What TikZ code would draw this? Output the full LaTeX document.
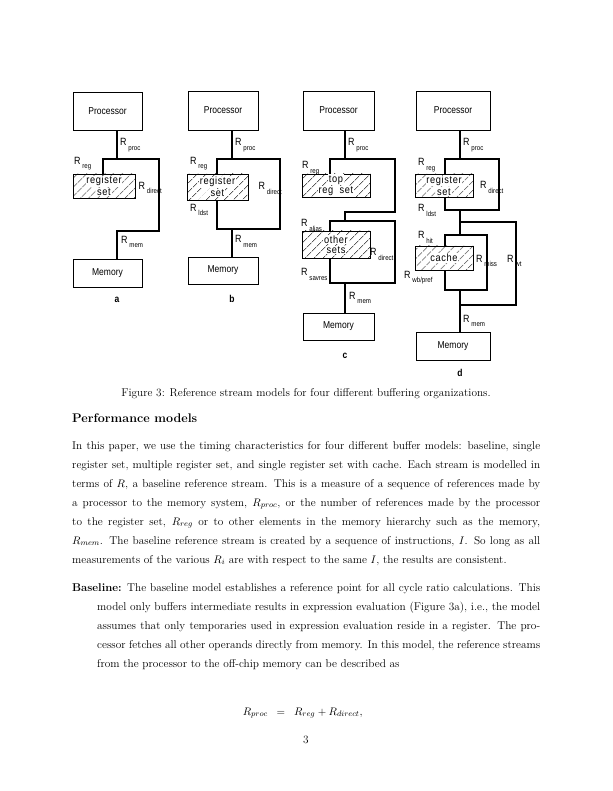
\documentclass[tikz,border=0pt]{standalone}
\usepackage{fontspec}
\newfontfamily\dfont[FakeStretch=0.85]{Liberation Sans}
\newfontfamily\hfont[FakeStretch=0.88,LetterSpace=6]{Liberation Sans}
\usetikzlibrary{patterns.meta}
\newcommand\RR[1]{R\hspace{1.8pt}\raisebox{-4.5pt}{\fontsize{7.2}{8}\selectfont #1}}
\newcommand\hw[1]{\colorbox{white}{#1}}
\setlength\fboxsep{0.8pt}
\begin{document}
\begin{tikzpicture}[x=1pt,y=-1pt,
  procbox/.style={draw,line width=0.9pt,inner sep=0,font=\dfont\fontsize{10}{12}\selectfont},
  hbox/.style={draw,line width=0.9pt,inner sep=0,align=center,
     pattern={Lines[angle=45,distance=6.5pt,line width=0.5pt]},
     font=\hfont\fontsize{10.5}{10.5}\selectfont},
  wire/.style={line width=1.7pt},
  lab/.style={anchor=base west,inner sep=0,font=\dfont\fontsize{10.5}{12}\selectfont},
  panel/.style={anchor=base,inner sep=0,font=\dfont\bfseries\fontsize{10}{12}\selectfont},
  txt/.style={anchor=base west,inner sep=0,font=\fontsize{11.3}{13}\selectfont},
  ctxt/.style={anchor=base,inner sep=0,font=\fontsize{11.3}{13}\selectfont}]
\fill[white] (0,0) rectangle (612,791);
\useasboundingbox (0,0) rectangle (612,791);

% ---------- panel a ----------
\node[procbox,minimum width=69pt,minimum height=38pt] (pa) at (107.5,111) {Processor};
\node[hbox,minimum width=62pt,minimum height=24pt] (ra) at (104,186) {\hw{register}\\\hw{set}};
\node[procbox,minimum width=69pt,minimum height=28pt] (ma) at (107.5,273) {Memory};
\coordinate (a1) at (117,159); \coordinate (aL) at (103,159); \coordinate (aR) at (159,159);
\coordinate (aB) at (159,231); \coordinate (aM) at (117,231);
\draw[wire] (pa.south -| a1) -- (a1);
\draw[wire] (ra.north -| aL) -- (aL) -- (aR) -- (aB) -- (aM) -- (ma.north -| aM);
\node[lab] (la1) at (120,146) {\RR{proc}};
\node[lab] (la2) at (74,164.5) {\RR{reg}};
\node[lab] (la3) at (138.5,189.5) {\RR{direct}};
\node[lab] (la4) at (121,243.5) {\RR{mem}};
\node[panel] (na) at (117,302) {a};

% ---------- panel b ----------
\node[procbox,minimum width=70pt,minimum height=39pt] (pb) at (223,110.5) {Processor};
\node[hbox,minimum width=61pt,minimum height=26pt] (rb) at (217.5,187) {\hw{register}\\\hw{set}};
\node[procbox,minimum width=70pt,minimum height=27pt] (mb) at (223,270.5) {Memory};
\coordinate (b1) at (232,159); \coordinate (bL) at (217,159); \coordinate (bR) at (280,159);
\coordinate (bB) at (280,229); \coordinate (bLB) at (217,229); \coordinate (bM) at (232,229);
\draw[wire] (pb.south -| b1) -- (b1);
\draw[wire] (rb.north -| bL) -- (bL) -- (bR) -- (bB) -- (bLB) -- (rb.south -| bLB);
\draw[wire] (bM) -- (mb.north -| bM);
\node[lab] (lb1) at (235,146) {\RR{proc}};
\node[lab] (lb2) at (190,164.5) {\RR{reg}};
\node[lab] (lb3) at (258.5,190) {\RR{direct}};
\node[lab] (lb4) at (190,211.5) {\RR{ldst}};
\node[lab] (lb5) at (235,243) {\RR{mem}};
\node[panel] (nb) at (232,302) {b};

% ---------- panel c ----------
\node[procbox,minimum width=71pt,minimum height=39pt] (pc) at (338.5,110.5) {Processor};
\node[hbox,minimum width=68pt,minimum height=23pt] (rc1) at (336,185.5) {\hw{top}\\\hw{reg\ \ set}};
\node[hbox,minimum width=68pt,minimum height=27pt] (rc2) at (336,244.5) {\hw{other}\\\hw{sets}};
\node[procbox,minimum width=71pt,minimum height=27pt] (mc) at (338.5,326.5) {Memory};
\coordinate (c1) at (345,159); \coordinate (cL) at (330,159); \coordinate (cR) at (395,159);
\coordinate (cRB) at (395,212); \coordinate (cM1) at (345,212); \coordinate (cM2) at (345,221);
\coordinate (cL2) at (330,221); \coordinate (cR2) at (395,221); \coordinate (cR2B) at (395,283);
\coordinate (cLB) at (330,283); \coordinate (cM3) at (345,283);
\draw[wire] (pc.south -| c1) -- (c1);
\draw[wire] (rc1.north -| cL) -- (cL) -- (cR) -- (cRB) -- (cM1) -- (cM2);
\draw[wire] (rc2.north -| cL2) -- (cL2) -- (cR2) -- (cR2B) -- (cLB) -- (rc2.south -| cLB);
\draw[wire] (cM3) -- (mc.north -| cM3);
\node[lab] (lc1) at (348,146) {\RR{proc}};
\node[lab] (lc2) at (302,169) {\RR{reg}};
\node[lab] (lc3) at (301,227) {\RR{alias}};
\node[lab] (lc4) at (370,256) {\RR{direct}};
\node[lab] (lc5) at (301,276) {\RR{savres}};
\node[lab] (lc6) at (349,299) {\RR{mem}};
\node[panel] (nc) at (345,358) {c};

% ---------- panel d ----------
\node[procbox,minimum width=74pt,minimum height=39pt] (pd) at (453,110.5) {Processor};
\node[hbox,minimum width=58pt,minimum height=23pt] (rd) at (444,185.5) {\hw{register}\\\hw{set}};
\node[hbox,minimum width=58pt,minimum height=24pt] (cd) at (444,258) {\hw{cache}};
\node[procbox,minimum width=74pt,minimum height=28pt] (md) at (453,346) {Memory};
\coordinate (d1) at (460,159); \coordinate (dL) at (445,159); \coordinate (dR) at (499,159);
\coordinate (dRB) at (499,210); \coordinate (dLB) at (445,210); \coordinate (dM1) at (460,210);
\coordinate (dW1) at (460,222); \coordinate (dW2) at (516,222); \coordinate (dW3) at (516,305); \coordinate (dW4) at (460,305);
\coordinate (dM2) at (460,235); \coordinate (dL2) at (445,235); \coordinate (dR2) at (487,235);
\coordinate (dR2B) at (487,290); \coordinate (dL2B) at (445,290); \coordinate (dM3) at (460,290);
\draw[wire] (pd.south -| d1) -- (d1);
\draw[wire] (rd.north -| dL) -- (dL) -- (dR) -- (dRB) -- (dLB) -- (rd.south -| dLB);
\draw[wire] (dM1) -- (dM2);
\draw[wire] (dW1) -- (dW2) -- (dW3) -- (dW4);
\draw[wire] (cd.north -| dL2) -- (dL2) -- (dR2) -- (dR2B) -- (dL2B) -- (cd.south -| dL2B);
\draw[wire] (dM3) -- (md.north -| dM3);
\node[lab] (ld1) at (463,146) {\RR{proc}};
\node[lab] (ld2) at (418,166) {\RR{reg}};
\node[lab] (ld3) at (480,189) {\RR{direct}};
\node[lab] (ld4) at (418,212) {\RR{ldst}};
\node[lab] (ld5) at (418,239) {\RR{hit}};
\node[lab] (ld6) at (476,262) {\RR{miss}};
\node[lab] (ld7) at (507,262) {\RR{wt}};
\node[lab] (ld8) at (404,278) {\RR{wb/pref}};
\node[lab] (ld9) at (463,322) {\RR{mem}};
\node[panel] (nd) at (460,376) {d};

% ---------- text ----------
\node[ctxt] (cap) at (306,396) {Figure 3: Reference stream models for four different buffering organizations.};
\node[txt,font=\bfseries\fontsize{12.5}{14}\selectfont] (head) at (72,422) {Performance models};

\node[txt] (l1) at (72,449) {\makebox[468pt][s]{In this paper, we use the timing characteristics for four different buffer models: baseline, single}};
\node[txt] (l2) at (72,468) {\makebox[468pt][s]{register set, multiple register set, and single register set with cache. Each stream is modelled in}};
\node[txt] (l3) at (72,487) {\makebox[468pt][s]{terms of $R$, a baseline reference stream. This is a measure of a sequence of references made by}};
\node[txt] (l4) at (72,506) {\makebox[468pt][s]{a processor to the memory system, $R_{proc}$, or the number of references made by the processor}};
\node[txt] (l5) at (72,525) {\makebox[468pt][s]{to the register set, $R_{reg}$ or to other elements in the memory hierarchy such as the memory,}};
\node[txt] (l6) at (72,544) {\makebox[468pt][s]{$R_{mem}$. The baseline reference stream is created by a sequence of instructions, $I$. So long as all}};
\node[txt] (l7) at (72,563) {measurements of the various $R_i$ are with respect to the same $I$, the results are consistent.};

\node[txt] (b1) at (72,591) {\makebox[468pt][s]{\textbf{Baseline:} The baseline model establishes a reference point for all cycle ratio calculations. This}};
\node[txt] (b2) at (97,610) {\makebox[443pt][s]{model only buffers intermediate results in expression evaluation (Figure 3a), i.e., the model}};
\node[txt] (b3) at (97,629) {\makebox[443pt][s]{assumes that only temporaries used in expression evaluation reside in a register. The pro-}};
\node[txt] (b4) at (97,648) {\makebox[443pt][s]{cessor fetches all other operands directly from memory. In this model, the reference streams}};
\node[txt] (b5) at (97,667) {from the processor to the off-chip memory can be described as};

\node[ctxt] (eq) at (281,715) {\makebox[0pt][r]{$R_{proc}$\hspace{8.9pt}}$=$\makebox[0pt][l]{\hspace{8.9pt}$R_{reg}+R_{direct},$}};
\node[ctxt] (pg) at (306,743) {3};
\end{tikzpicture}
\end{document}
